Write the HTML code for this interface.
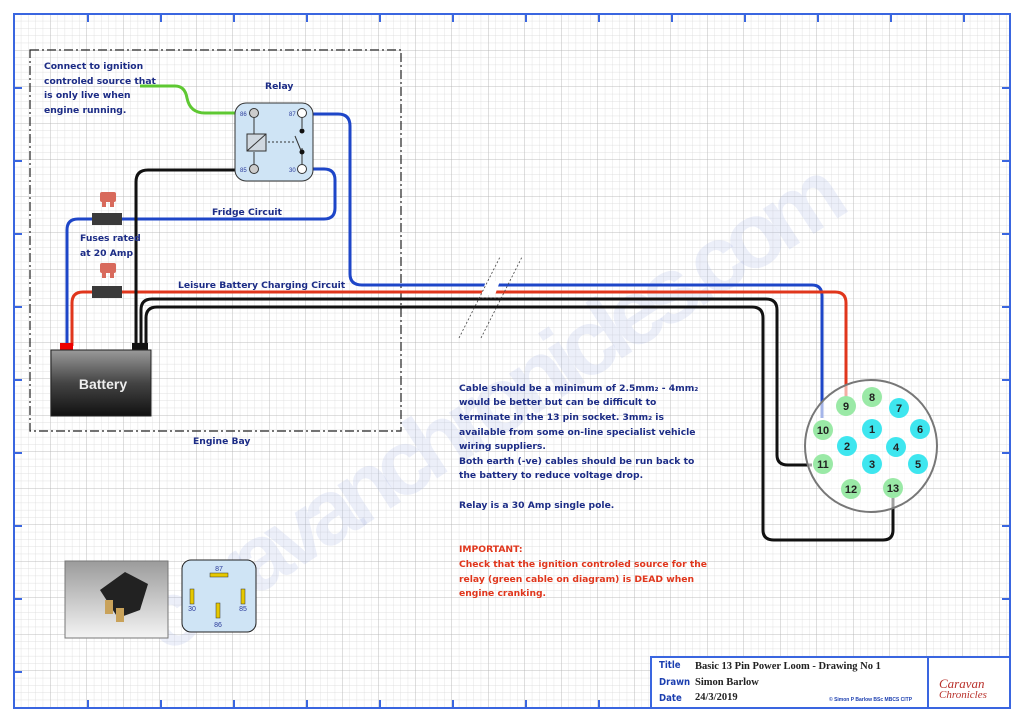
<!DOCTYPE html>
<html><head><meta charset="utf-8"><style>
html,body{margin:0;padding:0;background:#fff;}
svg{display:block;}
.t{font-family:"DejaVu Sans","Liberation Sans",sans-serif;font-weight:bold;fill:#1c2c86;font-size:9.2px;}
.r{fill:#e0361c;}
.p{font-family:"Liberation Sans",sans-serif;font-weight:bold;font-size:11px;fill:#222;text-anchor:middle;}
.tb{font-family:"DejaVu Sans Condensed","DejaVu Sans",sans-serif;font-weight:bold;fill:#1c3fb0;font-size:9.5px;}
.tv{font-family:"Liberation Serif",serif;font-weight:bold;fill:#222;font-size:10.5px;}
</style></head><body>
<svg width="1024" height="724" viewBox="0 0 1024 724" xmlns="http://www.w3.org/2000/svg">
<defs>
<pattern id="minor" x="14" y="14" width="7.3" height="7.3" patternUnits="userSpaceOnUse"><path d="M7.3 0V7.3M0 7.3H7.3" stroke="#d8d8d8" stroke-width="0.7" fill="none"/></pattern>
<pattern id="major" x="14" y="14" width="36.5" height="36.5" patternUnits="userSpaceOnUse"><path d="M36.5 0V36.5M0 36.5H36.5" stroke="#b4b4b4" stroke-width="0.8" fill="none"/></pattern>
<linearGradient id="bat" x1="0" y1="0" x2="0" y2="1"><stop offset="0" stop-color="#9a9a9a"/><stop offset="0.5" stop-color="#444"/><stop offset="1" stop-color="#111"/></linearGradient>
<linearGradient id="ph" x1="0" y1="0" x2="0" y2="1"><stop offset="0" stop-color="#9b9b9b"/><stop offset="1" stop-color="#f4f4f4"/></linearGradient>
</defs>
<rect x="14" y="14" width="996" height="694" fill="url(#minor)"/>
<rect x="14" y="14" width="996" height="694" fill="url(#major)"/>
<rect x="14" y="14" width="996" height="694" fill="none" stroke="#3a66e0" stroke-width="2"/>
<g stroke="#3a66e0" stroke-width="2">
<path d="M88 14v8M161 14v8M234 14v8M307 14v8M380 14v8M453 14v8M526 14v8M599 14v8M672 14v8M745 14v8M818 14v8M891 14v8M964 14v8"/>
<path d="M88 708v-8M161 708v-8M234 708v-8M307 708v-8M380 708v-8M453 708v-8M526 708v-8M599 708v-8"/>
<path d="M14 88h8M14 161h8M14 234h8M14 307h8M14 380h8M14 453h8M14 526h8M14 599h8M14 672h8"/>
<path d="M1010 88h-8M1010 161h-8M1010 234h-8M1010 307h-8M1010 380h-8M1010 453h-8M1010 526h-8M1010 599h-8"/>
</g>
<!-- watermark -->
<text x="0" y="0" transform="translate(165,655) rotate(-33)" font-family="Liberation Sans,sans-serif" font-weight="bold" font-size="92" fill="#a8b8e4" fill-opacity="0.22" textLength="820">caravanchronicles.com</text>
<!-- engine bay -->
<rect x="30" y="50" width="371" height="381" fill="none" stroke="#222" stroke-width="1.2" stroke-dasharray="9,3,2,3"/>
<text class="t" x="193" y="444">Engine Bay</text>
<!-- wires -->
<g fill="none" stroke-width="3">
<path d="M140 86H175Q185 86 187 98Q190 113 205 113H238" stroke="#5ec832"/>
<path d="M305 114H338Q350 114 350 126V274Q350 285 362 285H812Q822 285 822 296V418" stroke="#1e46c8"/>
<path d="M305 169H324Q335 169 335 180V208Q335 219 324 219H78Q67 219 67 230V346" stroke="#1e46c8"/>
<path d="M72 346V303Q72 292 83 292H835Q846 292 846 303V400" stroke="#e0361c"/>
<path d="M238 170H148Q136 170 136 182V346" stroke="#111"/>
<path d="M141 346V310Q141 299 152 299H766Q777 299 777 310V455Q777 465 788 465H812" stroke="#111"/>
<path d="M146 346V318Q146 307 157 307H752Q763 307 763 318V530Q763 540 774 540H883Q893 540 893 530V498" stroke="#111"/>
</g>
<!-- break -->
<path d="M486 281L500 281L495 295L481 295Z" fill="#fff"/>
<g stroke="#444" stroke-width="0.8" stroke-dasharray="2,2" fill="none">
<path d="M459 338L500 257M481 338L522 257M478 298H500"/>
</g>
<!-- fuses -->
<rect x="92" y="213" width="30" height="12" fill="#3a3a3a"/>
<rect x="92" y="286" width="30" height="12" fill="#3a3a3a"/>
<g fill="#d86a5c"><rect x="100" y="192" width="16" height="10" rx="2"/><rect x="102" y="202" width="4" height="5"/><rect x="110" y="202" width="4" height="5"/>
<rect x="100" y="263" width="16" height="10" rx="2"/><rect x="102" y="273" width="4" height="5"/><rect x="110" y="273" width="4" height="5"/></g>
<text class="t" x="80" y="241">Fuses rated</text>
<text class="t" x="80" y="256">at 20 Amp</text>
<text class="t" x="212" y="215">Fridge Circuit</text>
<text class="t" x="178" y="288">Leisure Battery Charging Circuit</text>
<!-- battery -->
<rect x="60" y="343" width="13" height="8" fill="#e00"/>
<rect x="132" y="343" width="16" height="8" fill="#111"/>
<rect x="51" y="350" width="100" height="66" fill="url(#bat)" stroke="#222"/>
<text x="103" y="389" font-family="Liberation Sans,sans-serif" font-weight="bold" font-size="14" fill="#eee" text-anchor="middle">Battery</text>
<!-- relay -->
<text class="t" x="265" y="89">Relay</text>
<rect x="235" y="103" width="78" height="78" rx="11" fill="#cfe4f5" stroke="#333" stroke-width="1"/>
<g stroke="#333" stroke-width="1" fill="#ccc">
<path d="M254 118V134M254 152V164M302 118V128M302 148V164" fill="none"/>
<rect x="247" y="134" width="19" height="17" fill="#d0d8e0"/>
<path d="M247 151L266 134" fill="none"/>
<path d="M268 142H296" stroke-dasharray="2,2" fill="none"/>
<path d="M302 153L295 136" fill="none"/>
<circle cx="254" cy="113" r="4.5"/><circle cx="302" cy="113" r="4.5" fill="#fff"/>
<circle cx="254" cy="169" r="4.5"/><circle cx="302" cy="169" r="4.5" fill="#fff"/>
</g>
<circle cx="302" cy="131" r="2.5" fill="#111"/><circle cx="302" cy="152" r="2.5" fill="#111"/>
<g font-family="Liberation Sans,sans-serif" font-size="6" fill="#2a3a9a"><text x="240" y="116">86</text><text x="289" y="116">87</text><text x="240" y="172">85</text><text x="289" y="172">30</text></g>
<text class="t" x="44" y="69">Connect to ignition</text>
<text class="t" x="44" y="84">controled source that</text>
<text class="t" x="44" y="98">is only live when</text>
<text class="t" x="44" y="113">engine running.</text>
<!-- notes -->
<text class="t" x="459" y="391">Cable should be a minimum of 2.5mm₂ -  4mm₂</text>
<text class="t" x="459" y="405">would be better but can be difficult to</text>
<text class="t" x="459" y="420">terminate in the 13 pin socket. 3mm₂ is</text>
<text class="t" x="459" y="435">available from some on-line specialist vehicle</text>
<text class="t" x="459" y="449">wiring suppliers.</text>
<text class="t" x="459" y="464">Both earth (-ve) cables should be run back to</text>
<text class="t" x="459" y="478">the battery to reduce voltage drop.</text>
<text class="t" x="459" y="508">Relay is a 30 Amp single pole.</text>
<text class="t r" x="459" y="552">IMPORTANT:</text>
<text class="t r" x="459" y="567">Check that the ignition controled source for the</text>
<text class="t r" x="459" y="582">relay (green cable on diagram) is DEAD when</text>
<text class="t r" x="459" y="596">engine cranking.</text>
<!-- connector -->
<circle cx="871" cy="446" r="66" fill="#fff" fill-opacity="0.6" stroke="#777" stroke-width="2"/>
<g fill="#9ae9a6">
<circle cx="846" cy="406" r="10"/><circle cx="872" cy="397" r="10"/><circle cx="823" cy="430" r="10"/><circle cx="823" cy="464" r="10"/><circle cx="851" cy="489" r="10"/><circle cx="893" cy="488" r="10"/></g>
<g fill="#3ee6ef">
<circle cx="899" cy="408" r="10"/><circle cx="872" cy="429" r="10"/><circle cx="920" cy="429" r="10"/><circle cx="847" cy="446" r="10"/><circle cx="896" cy="447" r="10"/><circle cx="872" cy="464" r="10"/><circle cx="918" cy="464" r="10"/></g>
<g class="p">
<text x="846" y="410">9</text><text x="872" y="401">8</text><text x="823" y="434">10</text><text x="823" y="468">11</text><text x="851" y="493">12</text><text x="893" y="492">13</text>
<text x="899" y="412">7</text><text x="872" y="433">1</text><text x="920" y="433">6</text><text x="847" y="450">2</text><text x="896" y="451">4</text><text x="872" y="468">3</text><text x="918" y="468">5</text></g>
<!-- photo -->
<rect x="65" y="561" width="103" height="77" fill="url(#ph)" stroke="#777"/>
<path d="M100 590L125 572L148 584L140 610L118 618Z" fill="#222"/>
<rect x="105" y="600" width="8" height="14" fill="#c9a25a"/><rect x="116" y="608" width="8" height="14" fill="#c9a25a"/>
<!-- pinout -->
<rect x="182" y="560" width="74" height="72" rx="9" fill="#cfe4f5" stroke="#222"/>
<g fill="#e6c800" stroke="#333" stroke-width="0.5"><rect x="210" y="573" width="18" height="4"/><rect x="190" y="589" width="4" height="15"/><rect x="241" y="589" width="4" height="15"/><rect x="216" y="603" width="4" height="15"/></g>
<g font-family="Liberation Sans,sans-serif" font-size="7" fill="#2a3a9a" text-anchor="middle"><text x="219" y="571">87</text><text x="192" y="611">30</text><text x="243" y="611">85</text><text x="218" y="627">86</text></g>
<!-- title block -->
<rect x="651" y="657" width="359" height="51" fill="#fff" stroke="#3a66e0" stroke-width="2"/>
<path d="M928 657V708" stroke="#3a66e0" stroke-width="2"/>
<text class="tb" x="659" y="668">Title</text><text class="tb" x="659" y="685">Drawn</text><text class="tb" x="659" y="701">Date</text>
<text class="tv" x="695" y="669">Basic 13 Pin Power Loom - Drawing No 1</text>
<text class="tv" x="695" y="685">Simon Barlow</text>
<text class="tv" x="695" y="700">24/3/2019</text>
<text x="829" y="701" font-family="Liberation Sans,sans-serif" font-size="5" font-weight="bold" fill="#1c3fb0">© Simon P Barlow BSc MBCS CITP</text>
<text x="939" y="688" font-family="Liberation Serif,serif" font-style="italic" font-size="13" fill="#b8302a">Caravan</text>
<text x="939" y="698" font-family="Liberation Serif,serif" font-style="italic" font-size="11" fill="#b8302a">Chronicles</text>
</svg>
</body></html>
